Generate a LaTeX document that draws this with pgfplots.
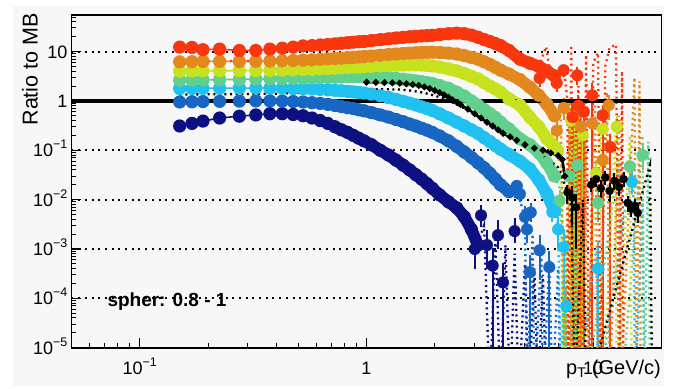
\documentclass[border=0pt]{standalone}
\usepackage{fontspec}
\setmainfont{Liberation Sans}
\usepackage{pgfplots}
\pgfplotsset{compat=1.18}
\usepackage{pgfplotstable}

\definecolor{cnavy}{RGB}{12,16,128}
\definecolor{cblue}{RGB}{24,102,196}
\definecolor{ccyan}{RGB}{32,192,240}
\definecolor{cgreen}{RGB}{96,208,140}
\definecolor{cyellow}{RGB}{198,226,30}
\definecolor{corange}{RGB}{226,136,28}
\definecolor{cred}{RGB}{250,54,14}
\definecolor{canvasgray}{RGB}{247,247,247}

% 10^{n} tick labels set in the text font
\newcommand{\tp}[1]{10\raisebox{0.45em}{\fontsize{12.5bp}{12.5bp}\selectfont #1}}

% ratio to minimum bias, smooth part of each class
\pgfplotstableread{
pt     navy    blue    cyan   green  yellow orange red
0.15   0.31    0.95    1.78   2.63   4.00   6.2    12.3
0.17   0.35    0.96    1.79   2.65   4.02   6.25   12.1
0.19   0.39    0.97    1.80   2.67   4.05   6.3    10.9
0.225  0.45    0.98    1.81   2.70   4.08   6.3    11.2
0.275  0.49    0.99    1.82   2.73   4.10   6.3    10.5
0.325  0.52    1.00    1.82   2.76   4.12   6.35   10.5
0.375  0.55    1.00    1.81   2.80   4.15   6.4    11.2
0.425  0.55    0.99    1.80   2.83   4.20   6.5    11.7
0.475  0.53    0.97    1.78   2.86   4.25   6.6    12.3
0.525  0.50    0.95    1.76   2.90   4.30   6.7    13.0
0.575  0.45    0.92    1.74   2.93   4.37   6.8    13.2
0.625  0.40    0.89    1.71   2.97   4.45   6.95   13.6
0.675  0.35    0.85    1.68   3.00   4.52   7.1    13.9
0.725  0.30    0.81    1.64   3.03   4.60   7.2    14.3
0.775  0.26    0.77    1.60   3.06   4.67   7.35   14.7
0.825  0.23    0.73    1.56   3.08   4.74   7.5    15.1
0.875  0.20    0.70    1.52   3.10   4.80   7.6    15.5
0.925  0.175   0.66    1.48   3.10   4.86   7.75   15.8
0.975  0.155   0.63    1.44   3.10   4.92   7.9    16.0
1.05   0.13    0.58    1.37   3.08   5.00   8.1    16.6
1.15   0.10    0.52    1.27   3.02   5.10   8.4    17.4
1.25   0.08    0.47    1.17   2.95   5.20   8.7    18.1
1.35   0.063   0.42    1.07   2.85   5.28   8.9    18.8
1.45   0.05    0.38    0.98   2.75   5.33   9.1    19.4
1.55   0.04    0.34    0.90   2.65   5.36   9.3    19.9
1.65   0.032   0.31    0.83   2.55   5.36   9.45   20.3
1.75   0.026   0.28    0.76   2.45   5.32   9.6    20.7
1.85   0.021   0.255   0.70   2.35   5.25   9.65   21.0
1.95   0.017   0.23    0.64   2.25   5.10   9.7    21.3
2.1    0.0125  0.195   0.55   2.05   4.85   9.6    22.0
2.3    0.009   0.155   0.45   1.80   4.45   9.3    23.0
2.5    0.0068  0.12    0.37   1.50   4.05   8.9    23.6
2.7    0.0045  0.092   0.31   1.25   3.60   8.3    23.0
2.9    0.0025  0.072   0.26   1.00   3.15   7.6    21.5
3.1    0.0012  0.056   0.22   0.82   2.80   7.0    19.5
3.3    nan     0.044   0.18   0.67   2.35   6.2    17.5
3.5    nan     0.034   0.15   0.55   2.00   5.5    16.0
3.7    nan     0.026   0.125  0.46   1.75   4.8    14.5
3.9    nan     0.020   0.105  0.37   1.50   4.2    13.2
4.25   nan     0.0145  0.082  0.27   1.10   3.5    10.5
4.75   nan     nan     0.060  0.17   0.82   2.7    7.0
5.25   nan     nan     0.042  0.13   0.47   1.9    5.8
5.75   nan     nan     0.025  0.09   0.30   1.3    5.0
6.25   nan     nan     0.013  0.055  0.17   0.85   4.0
6.75   nan     nan     0.0058 0.03   0.12   0.5    3.2
}\spectra

\pgfplotsset{
  band/.style={color=#1, line width=1.6bp, mark=*, mark size=5.8bp,
    mark options={solid, draw=none, fill=#1}},
  % from about 0.7 GeV/c the points are dense enough to merge into a band
  thick/.style={color=#1, line width=12bp, line join=round, line cap=round,
    no marks, skip coords between index={0}{13}},
  tail/.style={color=#1, only marks, mark=*, mark size=5.8bp,
    mark options={solid, draw=none, fill=#1},
    error bars/y dir=both, error bars/y explicit,
    error bars/error mark=none,
    error bars/error bar style={line width=2bp, solid, #1}},
  dots/.style={color=#1, line width=2.3bp, dash pattern=on 2bp off 3.6bp},
  column/.style={color=#1, line width=2.3bp, dash pattern=on 2bp off 2.6bp,
    unbounded coords=jump},
}

\begin{document}
\begin{tikzpicture}
\useasboundingbox (0,0) rectangle (673bp,389bp);
\fill[white] (0,0) rectangle (673bp,389bp);
\fill[canvasgray] (13bp,3bp) rectangle (664bp,383bp);

\begin{axis}[
  at={(71.5bp,41.3bp)}, anchor=south west,
  scale only axis, width=590bp, height=332.7bp,
  xmode=log, ymode=log,
  xmin=0.05, xmax=20, ymin=1e-5, ymax=55,
  axis line style={line width=1.6bp, black},
  tick align=inside, tick pos=left,
  major tick length=10bp, minor tick length=5bp,
  every tick/.style={black, line width=1.3bp},
  minor tick style={line width=1bp},
  xtick={0.1,1,10}, xticklabels={\tp{−1},1,10},
  minor xtick={0.05,0.06,0.07,0.08,0.09,0.2,0.3,0.4,0.5,0.6,0.7,0.8,0.9,2,3,4,5,6,7,8,9,20},
  ytick={1e-5,1e-4,1e-3,1e-2,1e-1,1,10},
  yticklabels={\tp{−5},\tp{−4},\tp{−3},\tp{−2},\tp{−1},1,10},
  minor ytick={2e-5,3e-5,4e-5,5e-5,6e-5,7e-5,8e-5,9e-5,2e-4,3e-4,4e-4,5e-4,6e-4,7e-4,8e-4,9e-4,0.002,0.003,0.004,0.005,0.006,0.007,0.008,0.009,0.02,0.03,0.04,0.05,0.06,0.07,0.08,0.09,0.2,0.3,0.4,0.5,0.6,0.7,0.8,0.9,2,3,4,5,6,7,8,9,20,30,40,50},
  tick label style={font=\fontsize{18bp}{20bp}\selectfont},
  xticklabel style={anchor=base, yshift=-27bp, inner sep=0pt},
  yticklabel style={anchor=base east, yshift=-6.5bp, xshift=-4bp, inner sep=0pt},
  ymajorgrids,
  major grid style={black, line width=2bp, dash pattern=on 2bp off 4.7bp},
]

% spherocity classes, lowest to highest ratio
\addplot[band=cnavy]   table[x=pt,y=navy]   {\spectra};
\addplot[thick=cnavy]  table[x=pt,y=navy]   {\spectra};
\addplot[band=cblue]   table[x=pt,y=blue]   {\spectra};
\addplot[thick=cblue]  table[x=pt,y=blue]   {\spectra};
\addplot[band=ccyan]   table[x=pt,y=cyan]   {\spectra};
\addplot[thick=ccyan]  table[x=pt,y=cyan]   {\spectra};
\addplot[band=cgreen]  table[x=pt,y=green]  {\spectra};
\addplot[thick=cgreen] table[x=pt,y=green]  {\spectra};
\addplot[band=cyellow] table[x=pt,y=yellow] {\spectra};
\addplot[thick=cyellow] table[x=pt,y=yellow] {\spectra};
\addplot[band=corange] table[x=pt,y=orange] {\spectra};
\addplot[thick=corange] table[x=pt,y=orange] {\spectra};
\addplot[band=cred]    table[x=pt,y=red]    {\spectra};
\addplot[thick=cred]   table[x=pt,y=red]    {\spectra};

% statistically limited high-pT points
\addplot[tail=cnavy] table[x=x,y=y,y error plus=ep,y error minus=em] {
x    y        ep      em
3.0  0.001    0.0008  0.0006
3.2  0.0048   0.003   0.002
3.4  0.0012   0.0012  0.0008
3.6  0.00046  0.0006  0.0004599
3.8  0.0019   0.002   0.0009
4.0  0.00021  0.0003  0.0002099
4.5  0.0023   0.002   0.001
};
\addplot[tail=cblue] table[x=x,y=y,y error plus=ep,y error minus=em] {
x    y        ep      em
4.6  0.019    0.006   0.005
4.75 0.013    0.005   0.004
5.0  0.0045   0.003   0.002
5.1  0.0025   0.002   0.0012
5.3  0.0055   0.003   0.002
5.25 0.00034  0.0004  0.0003399
5.8  0.00094  0.001   0.0007
6.4  0.00043  0.0005  0.0004299
};
\addplot[tail=ccyan] table[x=x,y=y,y error plus=ep,y error minus=em] {
x    y        ep      em
6.6  0.0056   0.003   0.002
7.0  0.0025   0.002   0.0015
7.4  0.0011   0.0015  0.0010999
7.6  0.00007  0.0001  0.0000699
10.5 0.0004   0.001   0.0003999
14.8 0.023    0.015   0.01
};
\addplot[tail=cgreen] table[x=x,y=y,y error plus=ep,y error minus=em] {
x    y        ep      em
7.1  0.0096   0.006   0.005
7.8  0.03     0.02    0.02
8.5  0.05     0.04    0.0499999
10.5 0.0086   0.006   0.005
14.5 0.047    0.03    0.02
16.5 0.08     0.05    0.04
};
\addplot[tail=cyellow] table[x=x,y=y,y error plus=ep,y error minus=em] {
x    y        ep      em
7.0  0.1      0.05    0.04
8.0  0.4      0.3     0.3999999
9.0  0.2      0.15    0.1999999
10.3 0.034    0.03    0.02
11.0 0.27     0.2     0.15
12.7 0.3      0.2     0.15
};
\addplot[tail=corange] table[x=x,y=y,y error plus=ep,y error minus=em] {
x    y        ep      em
6.9  0.25     0.15    0.1
7.4  0.72     0.4     0.3
8.2  0.47     0.3     0.4699999
8.8  0.3      0.3     0.2999999
9.9  0.35     0.25    0.2
11.0 0.063    0.05    0.04
11.7 0.82     0.5     0.4
};
\addplot[tail=cred] table[x=x,y=y,y error plus=ep,y error minus=em] {
x    y        ep      em
5.8  2.9      1.0     1.0
6.9  2.3      1.0     0.8
7.4  4.2      1.2     1.2
8.5  3.3      1.5     1.2
8.1  0.47     0.4     0.4699999
8.6  0.8      0.5     0.7999999
9.1  0.6      0.5     0.5999999
9.9  1.3      1.0     1.2999999
11.0 0.51     0.3     0.5099999
11.9 0.117    0.1     0.1169999
};

% dotted companion curves
\addplot[dots=cnavy] coordinates {(2.5,0.006) (2.9,0.002) (3.1,0.0013) (3.3,0.003) (3.5,1e-6) (3.7,0.002) (3.9,1e-6) (4.1,0.0012) (4.3,1e-6) (4.5,0.0008) (4.7,1e-6) (5.0,0.0005) (5.2,1e-6) (5.5,0.0004) (5.7,1e-6) (6.0,0.0003) (6.2,1e-6)};
\addplot[dots=cblue] coordinates {(3.9,0.018) (4.25,0.013) (4.75,0.01) (5.0,0.004) (5.1,1e-6) (5.4,0.002) (5.5,1e-6) (5.9,0.001) (6.0,1e-6) (6.4,0.0006) (6.6,1e-6) (7.0,0.0004) (7.2,1e-6)};
\addplot[dots=ccyan] coordinates {(6.25,0.012) (6.75,0.006) (7.0,0.003) (7.2,1e-6) (7.5,0.002) (7.7,1e-6) (8.2,0.001) (8.4,1e-6) (10.3,0.001) (10.5,1e-6) (14.5,0.03) (15,0.02) (15.3,1e-6) (16.5,0.01) (16.8,1e-6)};
\addplot[dots=cgreen] coordinates {(6.25,0.06) (6.75,0.03) (7.2,0.015) (7.4,1e-6) (8.0,0.1) (8.2,1e-6) (8.6,0.2) (8.7,1e-6) (9.0,0.05) (9.2,1e-6) (13,0.06) (13.3,1e-6) (16.5,0.2) (16.8,1e-6) (17.5,0.15) (17.8,1e-6)};
\addplot[dots=cyellow] coordinates {(6.25,0.17) (6.75,0.12) (7.2,0.1) (7.5,1e-6) (7.9,0.5) (8.1,1e-6) (8.4,0.6) (8.5,1e-6) (8.7,0.3) (8.9,1e-6) (10.8,0.25) (11,1e-6) (12.5,0.2) (12.7,1e-6) (14.5,0.2) (14.8,1e-6)};
\addplot[dots=corange] coordinates {(4.25,3.5) (4.75,2.7) (5.25,1.9) (5.75,1.3) (6.25,0.85) (6.75,0.5) (7.2,0.5) (7.5,1e-6) (7.8,1) (8.0,1e-6) (8.3,0.9) (8.35,1e-6) (8.5,0.8) (8.7,1e-6) (9.2,0.6) (9.4,1e-6) (10.2,1) (10.5,1e-6) (11.5,1.5) (11.8,1e-6) (13,0.5) (13.2,1e-6) (15.2,3) (15.5,1e-6) (16,2.5) (16.2,1e-6)};
\addplot[dots=cred] coordinates {(0.15,6.4) (0.2,6.4) (0.3,6.45) (0.45,6.6) (0.6,6.9)};
\addplot[dots=cred] coordinates {(4.25,10.5) (4.75,7) (5.25,5.8) (5.75,5) (6.2,12.5) (6.5,3) (7.0,4) (7.5,3) (7.7,1) (7.75,1e-6) (8.0,13.5) (8.2,1e-6) (8.6,2) (9.0,1e-6) (9.3,8.6) (9.6,1e-6) (10.0,6) (10.5,9.4) (10.8,1e-6) (11.3,5) (11.8,12) (12.6,13.7) (13.0,1e-6) (13.4,4) (13.6,1e-6)};

% crowded column of empty high-pT bins
\addplot[column=corange] coordinates {(8.0,0.9) (8.0,1e-6) (8.0,nan) (8.25,0.7) (8.25,1e-6) (8.25,nan) (8.55,0.8) (8.55,1e-6) (8.55,nan) (8.85,0.5) (8.85,1e-6)};
\addplot[column=cred] coordinates {(8.1,1.1) (8.1,1e-6) (8.1,nan) (8.4,0.9) (8.4,1e-6) (8.4,nan) (8.7,1.0) (8.7,1e-6)};
\addplot[column=cyellow] coordinates {(8.05,0.4) (8.05,1e-6) (8.05,nan) (8.35,0.35) (8.35,1e-6) (8.35,nan) (8.65,0.3) (8.65,1e-6)};
\addplot[column=cgreen] coordinates {(8.2,0.1) (8.2,1e-6) (8.2,nan) (8.5,0.08) (8.5,1e-6)};

\addplot[dots=black] coordinates {(0.15,1.35) (0.2,1.36) (0.3,1.38) (0.4,1.4) (0.5,1.45) (0.6,1.5) (0.7,1.57) (0.8,1.63) (0.9,1.67) (1.0,1.7) (1.2,1.72) (1.4,1.7) (1.6,1.6) (1.8,1.45) (2.0,1.28) (2.2,1.1) (2.4,0.93) (2.6,0.78) (2.8,0.64) (3.0,0.53) (3.3,0.4) (3.6,0.31) (4.0,0.22) (4.5,0.16) (5.0,0.12) (5.5,0.095) (6.0,0.075) (6.5,0.06) (7.0,0.045) (7.5,0.02) (8.0,0.008) (8.3,1e-6) (9.0,0.01) (9.3,1e-6) (17.8,0.05) (18.2,1e-6)};

% reference curve
\addplot[black, line width=2.6bp, mark=*, mark size=1.8bp, mark options={solid,fill=black}] coordinates {
(1.0,2.4) (1.1,2.38) (1.2,2.35) (1.3,2.32) (1.4,2.28) (1.5,2.22) (1.6,2.15) (1.7,2.05)
(1.8,1.92) (1.9,1.78) (2.0,1.62) (2.1,1.47) (2.2,1.32) (2.3,1.18) (2.4,1.05) (2.5,0.94)
(2.6,0.84) (2.8,0.68) (3.0,0.55) (3.2,0.45) (3.4,0.37) (3.6,0.31) (3.8,0.26) (4.0,0.22)
(4.3,0.186) (4.6,0.16) (5.0,0.13) (5.5,0.11) (6.0,0.1) (6.5,0.088) (7.0,0.078) (7.3,0.065) (7.5,0.03)};
\addplot[black, only marks, mark=*, mark size=4bp,
  error bars/y dir=both, error bars/y explicit, error bars/error mark=none,
  error bars/error bar style={line width=2bp, black}]
  table[x=x,y=y,y error plus=ep,y error minus=em] {
x    y       ep     em
7.7  0.014   0.006  0.006
8.1  0.011   0.008  0.008
8.4  0.007   0.006  0.006
9.8  0.02    0.008  0.006
10.3 0.026   0.01   0.008
10.8 0.017   0.008  0.006
11.3 0.028   0.01   0.008
11.8 0.015   0.007  0.006
12.4 0.024   0.01   0.008
13.0 0.018   0.008  0.006
13.6 0.026   0.01   0.008
14.2 0.0086  0.003  0.003
14.7 0.0065  0.003  0.002
15.3 0.0075  0.003  0.002
15.7 0.0054  0.002  0.002
};

% unity line
\addplot[black, line width=3.5bp] coordinates {(0.05,1) (20,1)};
\end{axis}

\node[anchor=base west, inner sep=0pt, font=\bfseries\fontsize{19bp}{21bp}\selectfont]
  at (107.3bp,82.3bp) {spher: 0.8 - 1};
\node[anchor=base east, inner sep=0pt, font=\fontsize{20bp}{22bp}\selectfont]
  at (661bp,15bp) {p\textsubscript{T} (GeV/c)};
\node[anchor=base east, rotate=90, inner sep=0pt, font=\fontsize{21.5bp}{23bp}\selectfont]
  at (37.5bp,376bp) {Ratio to MB};
\end{tikzpicture}
\end{document}
